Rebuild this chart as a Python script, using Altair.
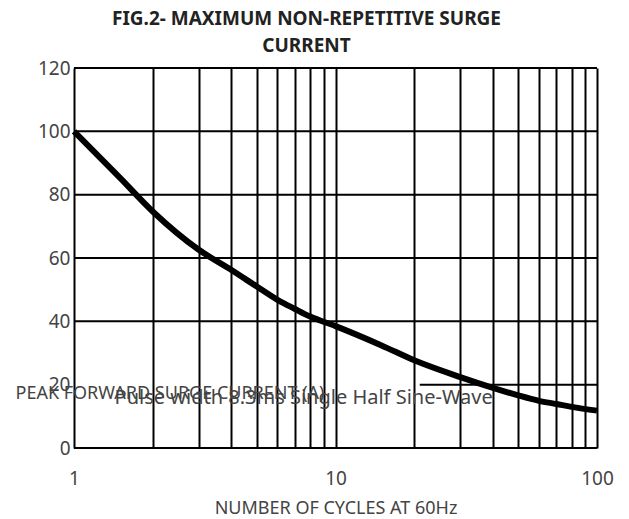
import altair as alt
import pandas as pd

# Curve data
cycles = [1, 1.5, 2, 3, 4, 5, 6, 7, 8, 10, 15, 20, 30, 40, 50, 60, 70, 80, 100]
current = [100, 85.3, 74.7, 62.6, 56.2, 51, 46.8, 43.9, 41.5, 38.5, 32.4, 27.7, 22.4, 19, 16.6, 14.9, 13.9, 13, 11.8]

x_grid = [1, 2, 3, 4, 5, 6, 7, 8, 9, 10, 20, 30, 40, 50, 60, 70, 80, 90, 100]
y_grid = [0, 40, 60, 80, 100, 120]
y_ticks = [0, 20, 40, 60, 80, 100, 120]

partial_grid = pd.DataFrame({"x": [21], "x2": [100], "y": [20]})
note = pd.DataFrame({"x": [1.43], "y": [15.8], "t": ["Pulse width 8.3ms Single Half Sine-Wave"]})

FONT = "Noto Sans"
GRAY = "#444444"

df = pd.DataFrame({"cycles": cycles, "current": current})

xscale = alt.Scale(type="log", domain=[1, 100], nice=False)
yscale = alt.Scale(domain=[0, 120], nice=False)

base = alt.Chart(df)

curve = base.mark_line(color="black", strokeWidth=6, interpolate="monotone").encode(
    x=alt.X("cycles:Q", scale=xscale,
            axis=alt.Axis(values=x_grid, grid=True, gridColor="black", gridWidth=2, gridOpacity=1,
                          ticks=False, domain=False,
                          labelExpr="(datum.value == 1 || datum.value == 10 || datum.value == 100) ? datum.label : ''",
                          labelFont=FONT, labelFontSize=19, labelColor=GRAY, labelPadding=21,
                          title="NUMBER OF CYCLES AT 60Hz", titleFont=FONT, titleFontSize=18,
                          titleFontWeight="normal", titleColor=GRAY, titlePadding=11,
                          labelFlush=False, labelOverlap=False)),
    y=alt.Y("current:Q", scale=yscale,
            axis=alt.Axis(values=y_ticks, grid=False, ticks=False, domain=False,
                          labelFont=FONT, labelFontSize=19, labelColor=GRAY, labelPadding=4,
                          title="PEAK FORWARD SURGE CURRENT (A)", titleFont=FONT, titleFontSize=18,
                          titleFontWeight="normal", titleColor=GRAY, titleAngle=0,
                          titleAlign="left", titleBaseline="middle", titleX=-59, titleY=325)),
)

ygrid = alt.Chart(pd.DataFrame({"y": y_grid})).mark_rule(color="black", strokeWidth=2).encode(
    y=alt.Y("y:Q", scale=yscale)
)

pgrid = alt.Chart(partial_grid).mark_rule(color="black", strokeWidth=2).encode(
    x=alt.X("x:Q", scale=xscale), x2="x2:Q", y=alt.Y("y:Q", scale=yscale)
)

note_text = alt.Chart(note).mark_text(align="left", baseline="middle", font=FONT, fontSize=20,
                                      color=GRAY).encode(
    x=alt.X("x:Q", scale=xscale), y=alt.Y("y:Q", scale=yscale), text="t:N"
)

chart = alt.layer(ygrid, pgrid, curve, note_text).properties(
    width=523, height=380,
    title=alt.TitleParams(["FIG.2- MAXIMUM NON-REPETITIVE SURGE", "CURRENT"], font=FONT, fontSize=19,
                          fontWeight="bold", color="#222222", anchor="middle", dx=-29,
                          lineHeight=27, offset=3),
    autosize=alt.AutoSizeParams(type="none"),
    padding={"left": 66, "top": 60, "right": 24, "bottom": 76},
).configure_view(stroke="black", strokeWidth=2).configure(background="white")

chart.save("out.html", embed_options={"renderer": "svg", "actions": False})
